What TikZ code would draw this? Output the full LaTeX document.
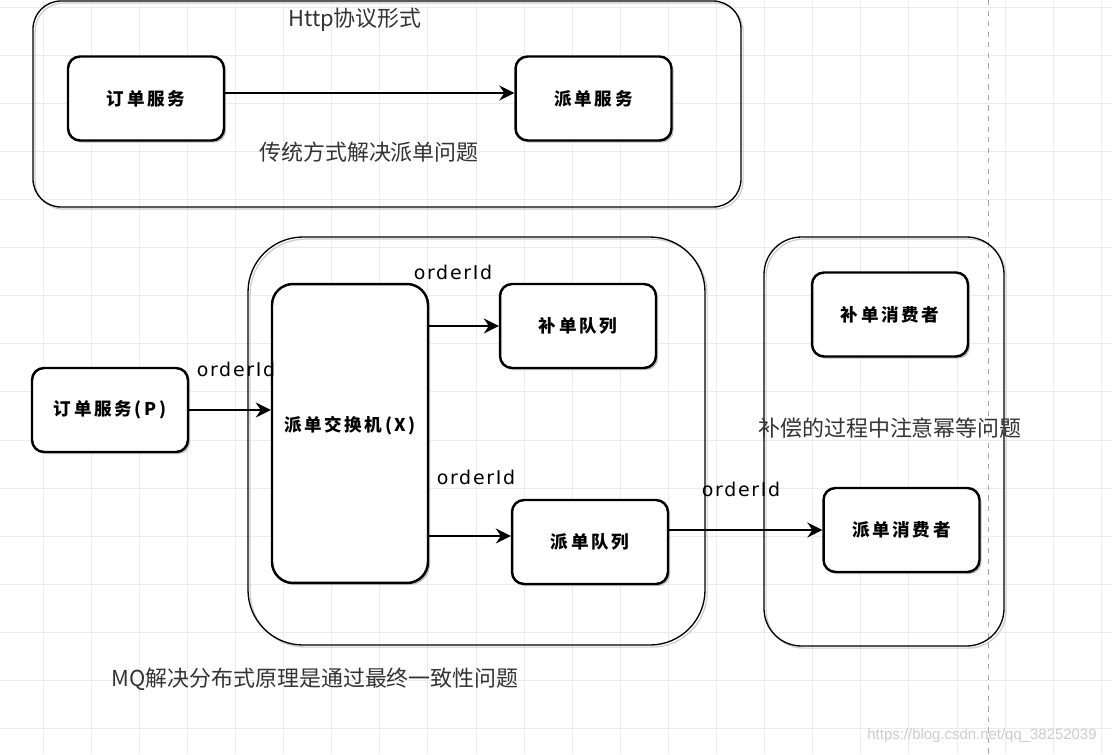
\documentclass[tikz,border=0pt]{standalone}
\usepackage{fontspec}
\setmainfont{Noto Sans CJK SC}
\newfontfamily\idfont[LetterSpace=9]{DejaVu Sans}
\newfontfamily\wmfont{Liberation Sans}
\usetikzlibrary{arrows.meta,shadows}
\tikzset{
svc/.style={
	draw, line width=1.4pt, rounded corners=0.24cm, fill=white,
	minimum width=3.12cm, minimum height=1.68cm, inner sep=0pt,
	font=\bfseries\fontsize{10}{11}\selectfont\addfontfeatures{LetterSpace=15},
	drop shadow={shadow xshift=1.2pt, shadow yshift=-1.2pt, fill=black!25, opacity=1}},
grp/.style={
	draw, line width=0.75pt,
	preaction={draw=black!20, line width=0.7pt, transform canvas={shift={(1.2pt,-1.2pt)}}}},
conn/.style={line width=1.35pt, -{Stealth[length=8.5pt, width=8.5pt, inset=2.8pt]}},
idlbl/.style={font=\idfont\fontsize{10.8}{12}\selectfont, inner sep=0pt},
note/.style={font=\fontsize{12.5}{14}\selectfont, text=black!80, inner sep=0pt},
wmark/.style={font=\wmfont\fontsize{8.5}{10}\selectfont, text=black!20, inner sep=0pt},
gridline/.style={draw=black!8, line width=0.4pt},
pagebreak/.style={draw=black!35, line width=0.4pt, dashed}
}

\begin{document}
\begin{tikzpicture}[x=0.02cm, y=-0.02cm]
	\useasboundingbox (0,0) rectangle (1112,754);
	\fill[white] (0,0) rectangle (1112,754);
	\foreach \k in {0,...,22}
		\draw[gridline] ({43+48.1*\k},0) -- ({43+48.1*\k},754);
	\foreach \k in {0,...,15}
		\draw[gridline] (0,{7+48.1*\k}) -- (1112,{7+48.1*\k});
	\draw[pagebreak] (988,0) -- (988,754);

	\draw[grp, rounded corners=0.56cm] (33,1) rectangle (741,207);
	\draw[grp, rounded corners=1.1cm] (248,237) rectangle (705,645);
	\draw[grp, rounded corners=0.75cm] (764,237) rectangle (1004,646);

	\node[svc] (ordA) at (146,98.5) {订单服务};
	\node[svc] (dispA) at (593.5,98.5) {派单服务};
	\node[svc] (ordP) at (110,410) {订单服务(P)};
	\node[svc, minimum height=5.98cm, rounded corners=0.42cm] (exch) at (350,433.5) {\raisebox{0.4cm}{派单交换机(X)}};
	\node[svc] (fixQ) at (578,326) {补单队列};
	\node[svc] (dispQ) at (590,542) {派单队列};
	\node[svc] (fixC) at (890,314.5) {补单消费者};
	\node[svc] (dispC) at (901.5,530) {派单消费者};

	\draw[conn] (ordA.east |- 0,93) -- (dispA.west |- 0,93);
	\draw[conn] (ordP) -- (ordP -| exch.west);
	\draw[conn] (exch.east |- fixQ) -- (fixQ);
	\draw[conn] (exch.east |- 0,536) -- (dispQ.west |- 0,536);
	\draw[conn] (dispQ.east |- dispC) -- (dispC);

	\node[idlbl] (id1) at (236,369) {orderId};
	\node[idlbl] (id2) at (453,272) {orderId};
	\node[idlbl] (id3) at (476,477) {orderId};
	\node[idlbl] (id4) at (741,489) {orderId};

	\node[note] (http) at (355,20) {Http协议形式};
	\node[note] (old) at (369,152) {传统方式解决派单问题};
	\node[note] (idem) at (890,428) {补偿的过程中注意幂等问题};
	\node[note] (mq) at (315,679) {MQ解决分布式原理是通过最终一致性问题};
	\node[wmark] (wm) at (982,736) {https://blog.csdn.net/qq\_38252039};
\end{tikzpicture}
\end{document}
